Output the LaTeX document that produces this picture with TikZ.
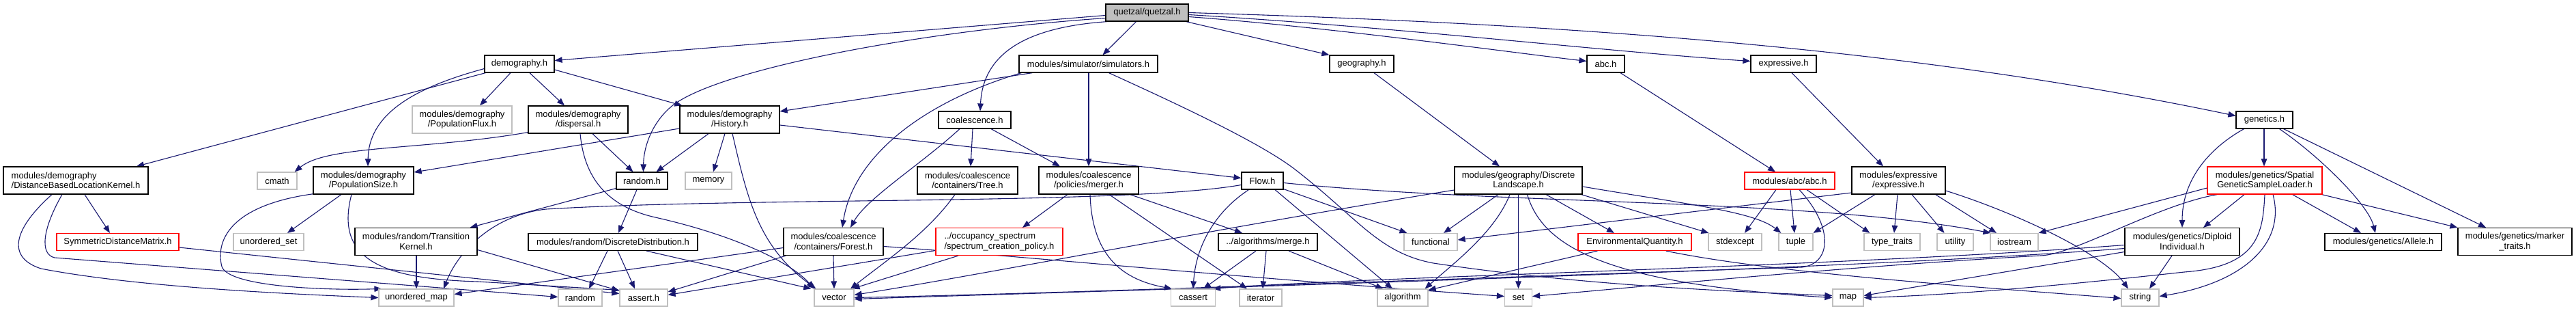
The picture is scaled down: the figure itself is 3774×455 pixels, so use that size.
\documentclass[tikz,border=0pt]{standalone}
\usepackage{fontspec}
\setmainfont{Liberation Sans}
\usetikzlibrary{arrows.meta,calc}
\definecolor{edgeblue}{HTML}{191970}
\definecolor{sysgrey}{HTML}{BFBFBF}
\definecolor{truncred}{HTML}{FF0000}
\definecolor{rootgrey}{HTML}{BFBFBF}
\pgfdeclarelayer{bg}
\pgfsetlayers{bg,main}
\newcommand\nodefont{\fontsize{13}{14.5}\selectfont}
\tikzset{
  box/.style={draw=black, line width=1.2pt, fill=white, inner sep=0pt, align=center, font=\nodefont},
  sys/.style={box, draw=sysgrey},
  trunc/.style={box, draw=truncred},
  root/.style={box, fill=rootgrey},
  wh/.style 2 args={minimum width=#1pt, minimum height=#2pt},
  edge/.style={draw=edgeblue, line width=1.1pt, -{Triangle[length=11pt,width=8.5pt]}},
}
\begin{document}
\begin{tikzpicture}[x=1pt,y=-1pt]
\useasboundingbox (0,0) rectangle (3774,455);
% ---------- row 0/1 ----------
\node[root, wh={121}{25}] (quetzal) at (1680.5,18.5) {quetzal/quetzal.h};
\node[box, wh={102}{25}] (demography) at (761,93.5) {demography.h};
\node[box, wh={203}{25}] (simulators) at (1594.5,93.5) {modules/simulator/simulators.h};
\node[box, wh={94}{25}] (geography) at (1995,93.5) {geography.h};
\node[box, wh={55}{25}] (abch) at (2352.5,93.5) {abc.h};
\node[box, wh={96}{25}] (exprh) at (2613,93.5) {expressive.h};
% ---------- row 2 ----------
\node[sys, wh={146}{40}] (popflux) at (677,175) {modules/demography\\/PopulationFlux.h};
\node[box, wh={146}{40}] (dispersal) at (847,175) {modules/demography\\/dispersal.h};
\node[box, wh={146}{40}] (history) at (1069,175) {modules/demography\\/History.h};
\node[box, wh={106}{25}] (coalescence) at (1428,175.5) {coalescence.h};
\node[box, wh={83}{25}] (genetics) at (3317.5,175.5) {genetics.h};
% ---------- row 3 ----------
\node[box, align=left, wh={212}{40}] (dblk) at (111,264) {modules/demography\\/DistanceBasedLocationKernel.h};
\node[sys, wh={58}{25}] (cmath) at (406,264.5) {cmath};
\node[box, wh={147}{40}] (popsize) at (532.5,264) {modules/demography\\/PopulationSize.h};
\node[box, wh={75}{25}] (randomh) at (940.5,264.5) {random.h};
\node[sys, wh={68}{25}] (memory) at (1038,264.5) {memory};
\node[box, wh={147}{40}] (tree) at (1417.5,264) {modules/coalescence\\/containers/Tree.h};
\node[box, wh={146}{40}] (merger) at (1595,264) {modules/coalescence\\/policies/merger.h};
\node[box, wh={61}{25}] (flow) at (1849.5,264.5) {Flow.h};
\node[box, wh={187}{40}] (dl) at (2224.5,264) {modules/geography/Discrete\\Landscape.h};
\node[trunc, wh={132}{25}] (abcabc) at (2622,264.5) {modules/abc/abc.h};
\node[box, wh={137}{40}] (expr) at (2781.5,264) {modules/expressive\\/expressive.h};
\node[trunc, wh={168}{40}] (sgsl) at (3318,264) {modules/genetics/Spatial\\GeneticSampleLoader.h};
% ---------- row 4 ----------
\node[trunc, wh={179}{25}] (sdm) at (172.5,354) {SymmetricDistanceMatrix.h};
\node[sys, wh={103}{25}] (uset) at (393.5,354) {unordered\_set};
\node[box, wh={179}{40}] (tk) at (609.5,353.5) {modules/random/Transition\\Kernel.h};
\node[box, wh={248}{25}] (ddist) at (898,354) {modules/random/DiscreteDistribution.h};
\node[box, wh={146}{40}] (forest) at (1221,353.5) {modules/coalescence\\/containers/Forest.h};
\node[trunc, align=left, wh={186}{40}] (occ) at (1464,353.5) {../occupancy\_spectrum\\/spectrum\_creation\_policy.h};
\node[box, wh={145}{25}] (amerge) at (1857.5,354) {../algorithms/merge.h};
\node[sys, wh={78}{25}] (functional) at (2096,354) {functional};
\node[trunc, wh={166}{25}] (envq) at (2395,354) {EnvironmentalQuantity.h};
\node[sys, wh={78}{25}] (stdexcept) at (2542,354) {stdexcept};
\node[sys, wh={50}{25}] (tuple) at (2631,354) {tuple};
\node[sys, wh={82}{25}] (typetraits) at (2772,354) {type\_traits};
\node[sys, wh={53}{25}] (utility) at (2864.5,354) {utility};
\node[sys, wh={70}{25}] (iostream) at (2951,354) {iostream};
\node[box, wh={168}{40}] (diploid) at (3197,353.5) {modules/genetics/Diploid\\Individual.h};
\node[box, wh={171}{25}] (allele) at (3491.5,354) {modules/genetics/Allele.h};
\node[box, wh={167}{40}] (marker) at (3684.5,353.5) {modules/genetics/marker\\\_traits.h};
% ---------- row 5 ----------
\node[sys, wh={110}{25}] (umap) at (610,435.5) {unordered\_map};
\node[sys, wh={64}{25}] (randomstd) at (850,435.5) {random};
\node[sys, wh={70}{25}] (asserth) at (943,435.5) {assert.h};
\node[sys, wh={58}{25}] (vector) at (1222,435.5) {vector};
\node[sys, wh={65}{25}] (cassert) at (1748,435.5) {cassert};
\node[sys, wh={62}{25}] (iterator) at (1847,435.5) {iterator};
\node[sys, wh={74}{25}] (algorithm) at (2055,435.5) {algorithm};
\node[sys, wh={40}{25}] (set) at (2224.5,435.5) {set};
\node[sys, wh={45}{25}] (map) at (2707.5,435.5) {map};
\node[sys, wh={55}{25}] (string) at (3135.5,435.5) {string};

\begin{pgfonlayer}{bg}
\fill[white] (0,0) rectangle (3774,455);
% quetzal
\draw[edge] ($(quetzal.west)+(0,4)$) -- ($(demography.east)+(0,-5)$);
\draw[edge] ($(quetzal.west)+(0,8)$) .. controls (1350,45) and (1060,100) .. (987,153) .. controls (955,178) and (943,215) .. ($(randomh.north)+(2,0)$);
\draw[edge] ($(quetzal.south west)+(3,0)$) .. controls (1500,40) and (1440,80) .. ($(coalescence.north)+(8,0)$);
\draw[edge] ($(quetzal.south)+(-16,0)$) -- ($(simulators.north)+(21,0)$);
\draw[edge] ($(quetzal.south east)+(-4,0)$) -- (geography.north west);
\draw[edge] ($(quetzal.east)+(0,6)$) .. controls (1950,40) and (2200,75) .. ($(abch.west)+(0,-4)$);
\draw[edge] ($(quetzal.east)+(0,3)$) .. controls (2050,40) and (2350,75) .. ($(exprh.west)+(0,-4)$);
\draw[edge] (quetzal.east) .. controls (2300,35) and (2800,70) .. ($(genetics.west)+(0,-6)$);
% demography
\draw[edge] ($(demography.south)+(-13,0)$) -- ($(popflux.north)+(26,0)$);
\draw[edge] ($(demography.south)+(15,0)$) -- ($(dispersal.north)+(-20,0)$);
\draw[edge] ($(demography.east)+(0,8.5)$) -- ($(history.north west)+(4,0)$);
\draw[edge] ($(demography.south west)+(2,0)$) -- ($(dblk.north)+(89,0)$);
\draw[edge] ($(demography.west)+(0,7)$) .. controls (600,130) and (540,170) .. ($(popsize.north)+(6.5,0)$);
% dispersal
\draw[edge] ($(dispersal.south west)+(0,-2)$) .. controls (620,220) and (480,212) .. ($(cmath.north east)+(-4,0)$);
\draw[edge] ($(dispersal.south)+(21,0)$) -- ($(randomh.north)+(-13,0)$);
\draw[edge] ($(dispersal.south)+(3,0)$) .. controls (855,250) and (880,300) .. (960,318) .. controls (1080,345) and (1160,385) .. (vector.north west);
% History
\draw[edge] ($(history.west)+(0,13)$) -- ($(popsize.east)+(0,-12)$);
\draw[edge] ($(history.south)+(-31,0)$) -- ($(randomh.north)+(21,0)$);
\draw[edge] ($(history.south)+(-7,0)$) -- ($(memory.north)+(7,0)$);
\draw[edge] ($(history.south)+(4,0)$) .. controls (1095,290) and (1110,360) .. ($(vector.north west)+(3,0)$);
\draw[edge] ($(history.east)+(0,8)$) -- ($(flow.west)+(0,-4)$);
% simulators
\draw[edge] ($(simulators.south west)+(20,0)$) -- ($(history.east)+(0,-12)$);
\draw[edge] ($(simulators.south west)+(4,0)$) .. controls (1350,150) and (1250,230) .. ($(forest.north)+(13,0)$);
\draw[edge] ($(simulators.south)+(0.5,0)$) -- (merger.north);
\draw[edge] ($(simulators.south)+(30,0)$) .. controls (1720,150) and (1850,210) .. (1900,250) .. controls (1990,320) and (2020,370) .. (2100,385) .. controls (2300,415) and (2500,425) .. ($(map.west)+(0,-3)$);
% coalescence
\draw[edge] ($(coalescence.south)+(-22,0)$) .. controls (1350,240) and (1270,290) .. ($(forest.north)+(25,0)$);
\draw[edge] ($(coalescence.south)+(-3,0)$) -- ($(tree.north)+(4.5,0)$);
\draw[edge] ($(coalescence.south)+(24,0)$) -- ($(merger.north)+(-42,0)$);
% geography, abc, expressive, genetics
\draw[edge] ($(geography.south)+(18,0)$) -- ($(dl.north)+(-27.5,0)$);
\draw[edge] ($(abch.south)+(21.5,0)$) -- ($(abcabc.north)+(-21,0)$);
\draw[edge] ($(exprh.south)+(12,0)$) -- ($(expr.north)+(-22.5,0)$);
\draw[edge] ($(genetics.south)+(-0.5,0)$) -- ($(sgsl.north)+(-1,0)$);
\draw[edge] ($(genetics.south)+(-30,0)$) .. controls (3240,215) and (3197,260) .. (diploid.north);
\draw[edge] ($(genetics.south)+(22,0)$) .. controls (3400,230) and (3470,300) .. ($(allele.north)+(-11.5,0)$);
\draw[edge] ($(genetics.south east)+(-14,0)$) -- ($(marker.north)+(-42.5,0)$);
% DistanceBasedLocationKernel
\draw[edge] ($(dblk.south)+(13,0)$) -- ($(sdm.north)+(-11.5,0)$);
\draw[edge] ($(dblk.south)+(-35,0)$) .. controls (25,330) and (5,375) .. (60,393) .. controls (200,420) and (420,430) .. (umap.west);
\draw[edge] ($(dblk.south)+(-20,0)$) .. controls (62,335) and (58,372) .. (80,377) -- ($(randomstd.west)+(0,-1)$);
\draw[edge] ($(sdm.east)+(0,8)$) -- ($(asserth.west)+(0,-6)$);
% PopulationSize
\draw[edge] ($(popsize.south)+(-32.5,0)$) -- ($(uset.north)+(27.5,0)$);
\draw[edge] ($(popsize.south west)+(1,-1)$) .. controls (340,300) and (315,350) .. (325,390) .. controls (335,420) and (480,425) .. ($(umap.north west)+(5,0)$);
\draw[edge] ($(popsize.south)+(-17.5,0)$) .. controls (490,380) and (560,408) .. (700,412) -- ($(asserth.north west)+(0,2)$);
% random.h
\draw[edge] ($(randomh.south west)+(0,-2)$) -- ($(tk.north east)+(-11,0)$);
\draw[edge] ($(randomh.south)+(-7.5,0)$) -- ($(ddist.north)+(8,0)$);
% TransitionKernel
\draw[edge] ($(tk.south)+(0.5,0)$) -- (umap.north);
\draw[edge] ($(tk.east)+(0,12)$) -- ($(asserth.north west)+(0,3)$);
% DiscreteDistribution
\draw[edge] ($(ddist.south)+(-8,0)$) -- ($(randomstd.north)+(13,0)$);
\draw[edge] ($(ddist.south)+(7,0)$) -- ($(asserth.north)+(-13,0)$);
\draw[edge] ($(ddist.south)+(49,0)$) -- ($(vector.north west)+(-4,0)$);
% Tree, merger
\draw[edge] ($(tree.south)+(-18.5,0)$) .. controls (1360,340) and (1300,380) .. ($(vector.north)+(24,0)$);
\draw[edge] ($(merger.south)+(-31,0)$) -- ($(occ.north)+(34,0)$);
\draw[edge] ($(merger.south east)+(-13,0)$) -- ($(amerge.north)+(-37.5,0)$);
\draw[edge] ($(merger.south)+(2,0)$) .. controls (1600,380) and (1650,410) .. ($(cassert.north west)+(2,0)$);
\draw[edge] ($(merger.south)+(30,0)$) -- ($(iterator.north)+(-20,0)$);
% Forest
\draw[edge] ($(forest.west)+(0,9)$) -- ($(umap.east)+(0,-5)$);
\draw[edge] ($(forest.south west)+(4,0)$) -- ($(asserth.east)+(0,-8.5)$);
\draw[edge] (forest.south) -- (vector.north);
\draw[edge] ($(forest.east)+(0,7)$) .. controls (1500,375) and (1800,405) .. ($(set.west)+(0,-2)$);
% occupancy
\draw[edge] ($(occ.south)+(-60,0)$) -- ($(vector.north east)+(-3,0)$);
\draw[edge] ($(occ.west)+(0,13)$) -- ($(asserth.east)+(0,-4)$);
% algorithms/merge
\draw[edge] ($(amerge.south)+(-17.5,0)$) -- ($(cassert.north)+(15,0)$);
\draw[edge] ($(amerge.south)+(-2.5,0)$) -- ($(iterator.north)+(3,0)$);
\draw[edge] ($(amerge.south)+(30.5,0)$) -- ($(algorithm.north west)+(9,0)$);
% Flow
\draw[edge] ($(flow.west)+(0,6)$) .. controls (1650,300) and (1100,288) .. (800,306) .. controls (720,315) and (670,370) .. ($(umap.north)+(40,0)$);
\draw[edge] ($(flow.south west)+(11,0)$) .. controls (1780,310) and (1752,360) .. (cassert.north);
\draw[edge] ($(flow.south)+(18.5,0)$) -- ($(algorithm.north)+(-15,0)$);
\draw[edge] ($(flow.south east)+(0,-1)$) -- ($(functional.north west)+(5,0)$);
\draw[edge] ($(flow.east)+(0,3)$) .. controls (2200,300) and (2650,290) .. ($(iostream.north west)+(1,0)$);
% DiscreteLandscape
\draw[edge] ($(dl.south)+(-29.5,0)$) -- ($(functional.north)+(19,0)$);
\draw[edge] ($(dl.south)+(-12.5,0)$) .. controls (2190,340) and (2130,385) .. ($(algorithm.north east)+(-5,0)$);
\draw[edge] (dl.south) -- (set.north);
\draw[edge] ($(dl.south)+(13,0)$) .. controls (2260,360) and (2350,415) .. (map.west);
\draw[edge] ($(dl.south)+(40.5,0)$) -- ($(envq.north)+(-30,0)$);
\draw[edge] ($(dl.south east)+(-2,0)$) -- ($(stdexcept.north west)+(1,0)$);
\draw[edge] ($(dl.east)+(0,9)$) .. controls (2480,300) and (2570,310) .. ($(tuple.north west)+(4,0)$);
\draw[edge] ($(dl.west)+(0,14)$) .. controls (1750,340) and (1450,400) .. ($(vector.east)+(0,-4)$);
% EnvironmentalQuantity
\draw[edge] ($(envq.south west)+(29,0)$) -- ($(algorithm.north east)+(0,2)$);
\draw[edge] ($(envq.south east)+(-38,0)$) .. controls (2600,400) and (2900,420) .. ($(string.west)+(0,1)$);
% modules/abc/abc.h
\draw[edge] ($(abcabc.south)+(-20,0)$) -- ($(stdexcept.north)+(14,0)$);
\draw[edge] ($(abcabc.south)+(1,0)$) -- ($(tuple.north)+(-2,0)$);
\draw[edge] ($(abcabc.south)+(25,0)$) -- ($(typetraits.north west)+(9,0)$);
\draw[edge] ($(abcabc.south)+(14,0)$) .. controls (2685,330) and (2685,385) .. (2640,391) .. controls (2200,405) and (1600,428) .. (vector.east);
% expressive/expressive.h
\draw[edge] ($(expr.west)+(0,18)$) -- ($(functional.east)+(0,-3)$);
\draw[edge] ($(expr.south)+(-34.5,0)$) -- (tuple.north east);
\draw[edge] ($(expr.south)+(-1.5,0)$) -- ($(typetraits.north)+(3,0)$);
\draw[edge] ($(expr.south)+(19.5,0)$) -- ($(utility.north)+(-16,0)$);
\draw[edge] ($(expr.south east)+(-15,0)$) -- ($(iostream.north)+(-26,0)$);
\draw[edge] ($(expr.east)+(0,15)$) .. controls (2950,310) and (3080,370) .. ($(string.north)+(-17.5,0)$);
% SpatialGeneticSampleLoader
\draw[edge] ($(sgsl.west)+(0,11)$) -- (iostream.north east);
\draw[edge] ($(sgsl.south)+(-30,0)$) -- ($(diploid.north)+(31,0)$);
\draw[edge] ($(sgsl.south west)+(15,0)$) .. controls (3160,300) and (3040,372) .. (2990,374) .. controls (2700,390) and (2400,420) .. ($(set.east)+(0,-2)$);
\draw[edge] (sgsl.south) .. controls (3315,340) and (3310,390) .. (3200,398) .. controls (3000,420) and (2850,432) .. (map.east);
\draw[edge] ($(sgsl.south)+(12,0)$) .. controls (3350,360) and (3280,415) .. ($(string.east)+(0,-2)$);
\draw[edge] ($(sgsl.south east)+(-44,0)$) -- ($(allele.north)+(-32.5,0)$);
\draw[edge] ($(sgsl.south east)+(-1,0)$) -- (marker.north west);
% DiploidIndividual
\draw[edge] ($(diploid.south)+(-15,0)$) -- ($(string.north)+(13.5,0)$);
\draw[edge] ($(diploid.west)+(0,15)$) -- ($(map.east)+(0,-3)$);
\draw[edge] ($(diploid.west)+(0,10)$) .. controls (2700,395) and (1800,420) .. ($(vector.east)+(0,2)$);
\draw[edge] ($(diploid.west)+(0,5)$) .. controls (2700,390) and (2000,405) .. ($(cassert.north east)+(-4,0)$);
\end{pgfonlayer}
\end{tikzpicture}
\end{document}
